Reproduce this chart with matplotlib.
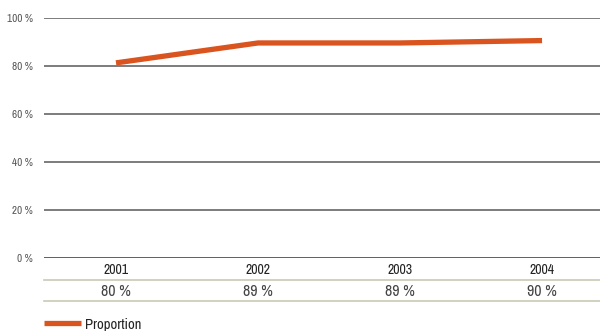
import matplotlib.pyplot as plt
from matplotlib.lines import Line2D
import matplotlib.transforms as mtransforms

# Data
years = ['2001', '2002', '2003', '2004']
proportion = [81.3, 89.6, 89.6, 90.6]
table_labels = ['80 %', '89 %', '89 %', '90 %']
y_ticks = [0, 20, 40, 60, 80, 100]

plt.rcParams['font.family'] = ['Archivo Narrow', 'DejaVu Sans']

W, H = 600, 331
fig = plt.figure(figsize=(W / 100, H / 100), dpi=100)
left, right = 44 / W, 1.0
bottom, top = (H - 258) / H, (H - 18) / H
ax = fig.add_axes([left, bottom, right - left, top - bottom])

x = list(range(len(years)))
ax.plot(x, proportion, color='#d9541e', linewidth=3.8, solid_capstyle='butt', zorder=3)

ax.set_xlim(-0.507, 3.408)
ax.set_ylim(0, 100)
ax.set_yticks(y_ticks)
ax.set_yticklabels([f'{v} %' for v in y_ticks], color='#555555', fontsize=8)
ax.tick_params(axis='y', length=0, pad=8)
ax.set_xticks([])
for v in y_ticks:
    ax.axhline(v, color='#444444' if v == 0 else '#666666', linewidth=1.2, zorder=1)
for s in ax.spines.values():
    s.set_visible(False)

# Table under the chart
trans = mtransforms.blended_transform_factory(ax.transData, fig.transFigure)
for i, (yr, lab) in enumerate(zip(years, table_labels)):
    fig.text(i, (H - 270) / H, yr, transform=trans, ha='center', va='center',
             fontsize=10, color='#222222')
    fig.text(i, (H - 291) / H, lab, transform=trans, ha='center', va='center',
             fontsize=11.5, color='#444444')
for yy in (280, 301):
    fig.add_artist(Line2D([left, right], [(H - yy) / H] * 2, transform=fig.transFigure,
                          color='#c9c9b4', linewidth=1.2))

# Legend
ly = (H - 323) / H
fig.add_artist(Line2D([44 / W, 81 / W], [ly, ly], transform=fig.transFigure,
                      color='#d9541e', linewidth=3.8, solid_capstyle='butt'))
fig.text(85 / W, ly - 0.006, 'Proportion', fontsize=10.5, color='#222222', va='center')

fig.savefig('out.png', dpi=100)
